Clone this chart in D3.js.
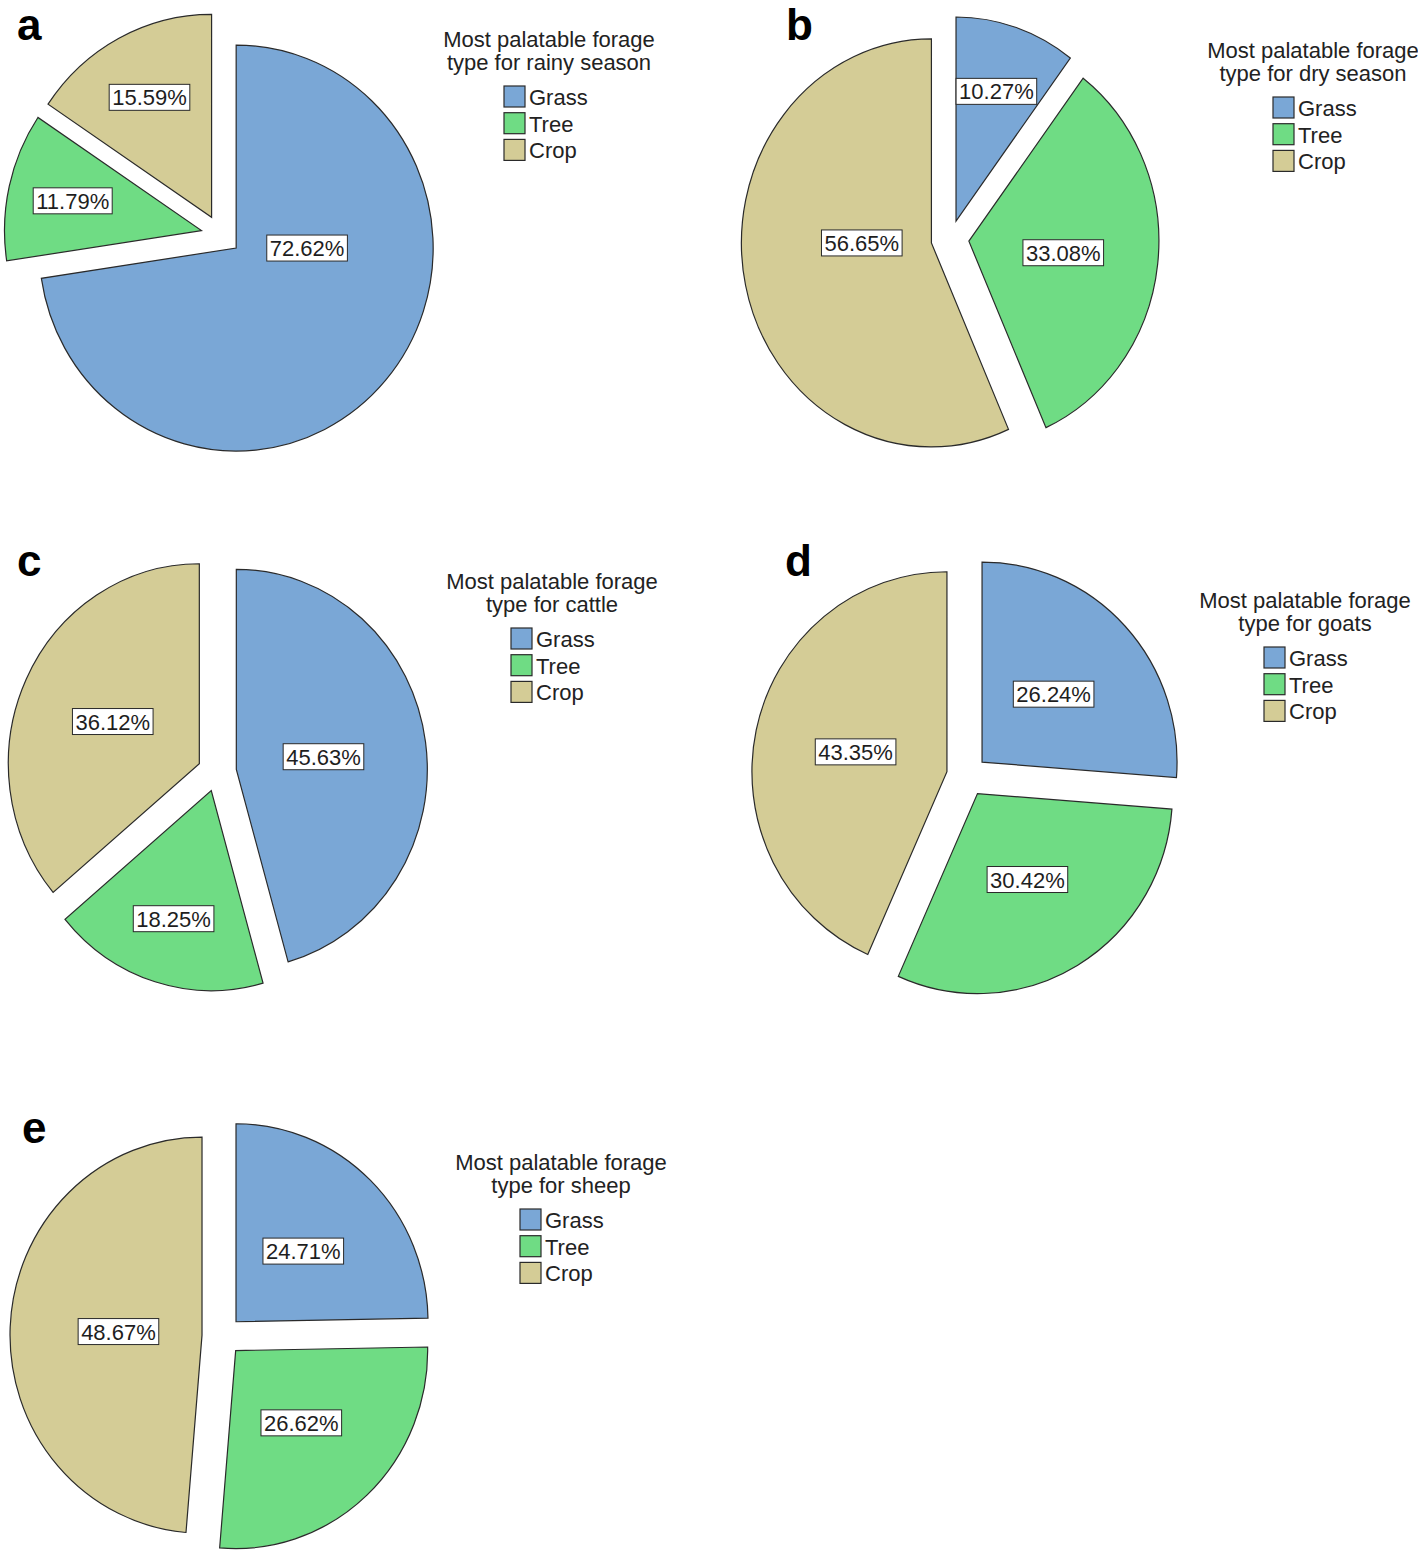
<!DOCTYPE html>
<html><head><meta charset="utf-8">
<script src="https://cdn.jsdelivr.net/npm/d3@7"></script>
<style>body{margin:0;background:#fff}svg{display:block}</style>
</head><body>
<svg id="chart" width="1418" height="1553"></svg>
<script>
// ---------- data ----------
const categories = ["Grass", "Tree", "Crop"];
const panelLetters = ["a", "b", "c", "d", "e"];
const legendTitles = [
  ["Most palatable forage", "type for rainy season"],
  ["Most palatable forage", "type for dry season"],
  ["Most palatable forage", "type for cattle"],
  ["Most palatable forage", "type for goats"],
  ["Most palatable forage", "type for sheep"]
];
const rainySeason = [72.62, 11.79, 15.59];
const drySeason   = [10.27, 33.08, 56.65];
const cattle      = [45.63, 18.25, 36.12];
const goats       = [26.24, 30.42, 43.35];
const sheep       = [24.71, 26.62, 48.67];
const seriesList = [rainySeason, drySeason, cattle, goats, sheep];

// ---------- styles / layout ----------
const colors = ["#7aa7d6", "#6fdc84", "#d4cc96"];
const layout = [
  {cx: 221, cy: 235,  rx: 197, ry: 203, ex: 20,   lx: 549,  ly: 47,   sx: 504,  lt: [17, 40]},
  {cx: 950, cy: 239,  rx: 190, ry: 204, ex: 19,   lx: 1313, ly: 58,   sx: 1273, lt: [786, 40]},
  {cx: 217, cy: 772,  rx: 191, ry: 200, ex: 19.5, lx: 552,  ly: 589,  sx: 511,  lt: [17, 576]},
  {cx: 967, cy: 776,  rx: 195, ry: 200, ex: 20.5, lx: 1305, ly: 608,  sx: 1264, lt: [785, 576]},
  {cx: 222, cy: 1336, rx: 192, ry: 198, ex: 20,   lx: 561,  ly: 1170, sx: 520,  lt: [22, 1143]}
];
const FONT = "'Liberation Sans', Arial, sans-serif";

const svg = d3.select("#chart");
const pie = d3.pie().sort(null).value(d => d);
const color = d3.scaleOrdinal().domain(categories).range(colors);

seriesList.forEach((vals, i) => {
  const L = layout[i];
  const g = svg.append("g");
  const scaleX = L.rx / L.ry;
  const arc = d3.arc().innerRadius(0).outerRadius(L.ry);
  const arcs = pie(vals);
  const total = d3.sum(vals);

  arcs.forEach((a, j) => {
    const mid = (a.startAngle + a.endAngle) / 2;
    const ax = L.cx + Math.sin(mid) * L.ex;
    const ay = L.cy - Math.cos(mid) * L.ex;
    g.append("path")
      .attr("d", arc(a))
      .attr("transform", `translate(${ax},${ay}) scale(${scaleX},1)`)
      .attr("fill", color(categories[j]))
      .attr("stroke", "#2a2a2a")
      .attr("stroke-width", 1.2)
      .attr("vector-effect", "non-scaling-stroke");
  });

  // labels
  arcs.forEach((a, j) => {
    const mid = (a.startAngle + a.endAngle) / 2;
    const ax = L.cx + Math.sin(mid) * L.ex;
    const ay = L.cy - Math.cos(mid) * L.ex;
    const th = a.endAngle - a.startAngle;
    const p = a.value / total;
    const centroid = 4 * L.ry * Math.sin(th / 2) / (3 * th);
    let ang = mid, dist;
    if (p < 0.2) dist = 0.67 * L.ry;
    else {
      dist = Math.min(0.5 * L.ry, centroid);
      if (th > Math.PI) {
        dist = Math.max(dist, 0.36 * L.ry);
        ang = mid < Math.PI ? Math.PI / 2 : 3 * Math.PI / 2;
      }
    }
    const lx = ax + Math.sin(ang) * dist * scaleX;
    const ly = ay - Math.cos(ang) * dist;
    const lg = g.append("g").attr("transform", `translate(${lx},${ly})`);
    const rect = lg.append("rect").attr("fill", "#fff").attr("stroke", "#2a2a2a").attr("stroke-width", 1);
    const t = lg.append("text")
      .attr("text-anchor", "middle").attr("y", 8)
      .attr("font-family", FONT).attr("font-size", 22).attr("fill", "#1e1e1e")
      .text(a.value.toFixed(2) + "%");
    const w = t.node().getComputedTextLength() + 6;
    rect.attr("x", -w / 2).attr("y", -13).attr("width", w).attr("height", 26);
  });

  // legend
  const lgd = svg.append("g");
  legendTitles[i].forEach((line, k) => {
    lgd.append("text").attr("x", L.lx).attr("y", L.ly + k * 23)
      .attr("text-anchor", "middle").attr("font-family", FONT)
      .attr("font-size", 22).attr("fill", "#222").text(line);
  });
  categories.forEach((c, k) => {
    const top = L.ly + 39 + k * 26.7;
    lgd.append("rect").attr("x", L.sx).attr("y", top).attr("width", 21).attr("height", 21)
      .attr("fill", color(c)).attr("stroke", "#2a2a2a").attr("stroke-width", 1.2);
    lgd.append("text").attr("x", L.sx + 25).attr("y", top + 19)
      .attr("font-family", FONT).attr("font-size", 22).attr("fill", "#222").text(c);
  });

  // panel letter
  svg.append("text").attr("x", L.lt[0]).attr("y", L.lt[1])
    .attr("font-family", FONT).attr("font-weight", "bold").attr("font-size", 44)
    .attr("fill", "#000").text(panelLetters[i]);
});
</script>
</body></html>
